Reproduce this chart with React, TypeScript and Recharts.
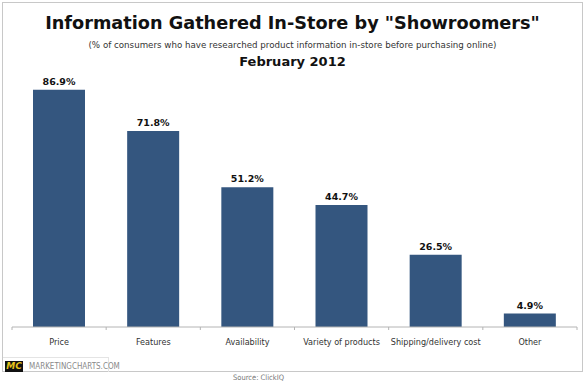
import React from 'react';
import { BarChart, Bar, XAxis, YAxis, LabelList } from 'recharts';

const categories = ['Price', 'Features', 'Availability', 'Variety of products', 'Shipping/delivery cost', 'Other'];
const values = [86.9, 71.8, 51.2, 44.7, 26.5, 4.9];

const data = categories.map((c, i) => ({ category: c, value: values[i] }));

const abs = (s: React.CSSProperties): React.CSSProperties => ({ position: 'absolute', ...s });

const CategoryTick = (props: any) => {
  const { x, y, payload, index, visibleTicksCount } = props;
  const half = payload && payload.offset ? payload.offset : 0;
  const isLast = index === (visibleTicksCount ?? categories.length) - 1;
  return (
    <g>
      <line x1={x - half} x2={x - half} y1={y - 2} y2={y + 1} stroke="#b4b4b4" />
      {isLast && <line x1={x + half} x2={x + half} y1={y - 2} y2={y + 1} stroke="#b4b4b4" />}
      <text
        x={x}
        y={y + 16}
        textAnchor="middle"
        fill="#333"
        fontSize={9}
        fontFamily="'DejaVu Sans Condensed', 'Liberation Sans', sans-serif"
      >
        {payload.value}
      </text>
    </g>
  );
};

export default function App() {
  return (
    <div style={abs({ left: 0, top: 0, width: 585, height: 384, background: '#fff', overflow: 'hidden' })}>
      <div style={abs({ left: 2, top: 2, width: 579, height: 368, border: '1px solid #c8c8c8' })} />
      <div style={abs({ left: 0, top: 0 })}>
        <BarChart width={585} height={384} data={data} margin={{ top: 54, right: 8, left: 12, bottom: 27 }}>
          <YAxis hide domain={[0, 100]} />
          <XAxis
            dataKey="category"
            axisLine={{ stroke: '#b4b4b4' }}
            tickLine={false}
            tickSize={0}
            height={30}
            interval={0}
            tick={<CategoryTick />}
          />
          <Bar dataKey="value" fill="#34567F" barSize={52} isAnimationActive={false}>
            <LabelList
              dataKey="value"
              position="top"
              offset={5}
              formatter={(v: number) => v.toFixed(1) + '%'}
              style={{ fill: '#111', fontSize: 9.5, fontWeight: 'bold', fontFamily: "'DejaVu Sans', sans-serif" }}
            />
          </Bar>
        </BarChart>
      </div>
      <div style={abs({ left: 0, top: 13, width: 585, textAlign: 'center', fontFamily: "'DejaVu Sans', sans-serif", fontWeight: 'bold', fontSize: 17.7, color: '#111', lineHeight: '20px', whiteSpace: 'nowrap' })}>
        Information Gathered In-Store by "Showroomers"
      </div>
      <div style={abs({ left: 0, top: 40, width: 585, textAlign: 'center', fontFamily: "'DejaVu Sans', sans-serif", fontSize: 8.7, color: '#333', lineHeight: '11px', whiteSpace: 'nowrap' })}>
        (% of consumers who have researched product information in-store before purchasing online)
      </div>
      <div style={abs({ left: 0, top: 54, width: 585, textAlign: 'center', fontFamily: "'DejaVu Sans', sans-serif", fontWeight: 'bold', fontSize: 13, color: '#111', lineHeight: '16px', whiteSpace: 'nowrap' })}>
        February 2012
      </div>
      <div style={abs({ left: 3, top: 357, width: 105, height: 14, borderTop: '1px solid #e4e4e4', borderRight: '1px solid #e4e4e4' })} />
      <div style={abs({ left: 5, top: 361, width: 18, height: 11, background: '#111', color: '#e6c41c', fontFamily: "'DejaVu Sans', sans-serif", fontWeight: 'bold', fontStyle: 'italic', fontSize: 9, lineHeight: '11px', textAlign: 'center' })}>
        MC
      </div>
      <div style={abs({ left: 29, top: 361, fontFamily: "'DejaVu Sans Condensed', 'Liberation Sans', sans-serif", fontSize: 8, color: '#8a8a8a', lineHeight: '11px', whiteSpace: 'nowrap' })}>
        MARKETINGCHARTS.COM
      </div>
      <div style={abs({ left: 0, top: 373, width: 517, textAlign: 'center', fontFamily: "'DejaVu Sans Condensed', 'Liberation Sans', sans-serif", fontSize: 7.5, color: '#777', lineHeight: '10px', whiteSpace: 'nowrap' })}>
        Source: ClickIQ
      </div>
    </div>
  );
}
